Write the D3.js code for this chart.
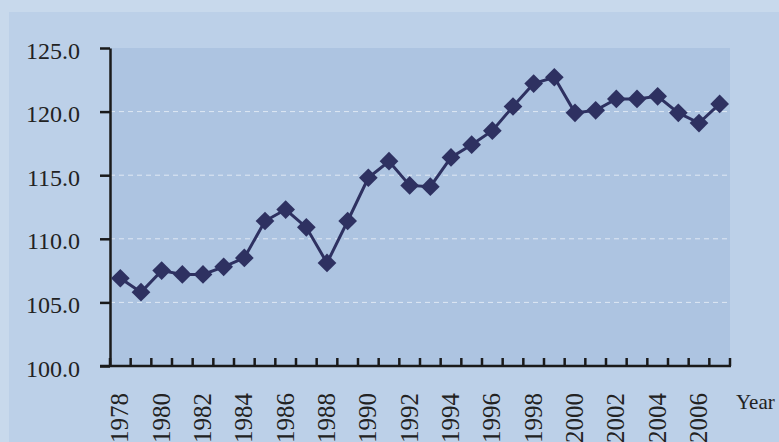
<!DOCTYPE html>
<html>
<head>
<meta charset="utf-8">
<script src="https://cdn.jsdelivr.net/npm/d3@7"></script>
<style>
  body { margin: 0; background: #c8d9ec; }
  svg { display: block; }
</style>
</head>
<body>
<svg id="canvas"></svg>
<script>
const years = [1978, 1979, 1980, 1981, 1982, 1983, 1984, 1985, 1986, 1987,
  1988, 1989, 1990, 1991, 1992, 1993, 1994, 1995, 1996, 1997,
  1998, 1999, 2000, 2001, 2002, 2003, 2004, 2005, 2006, 2007]
const values = [106.9, 105.8, 107.5, 107.2, 107.2, 107.8, 108.5, 111.4, 112.3, 110.9,
  108.1, 111.4, 114.8, 116.1, 114.2, 114.1, 116.4, 117.4, 118.5, 120.4,
  122.2, 122.7, 119.9, 120.1, 121.0, 121.0, 121.2, 119.9, 119.1, 120.6]
const yTicks = [100, 105, 110, 115, 120, 125]
const gridTicks = [105, 110, 115, 120]
const xLabel = 'Year'

const width = 779
const height = 442
const plot = { left: 110, right: 730, top: 48, bottom: 366 }
const font = '"Liberation Serif", "Times New Roman", serif'

const canvas = d3.select('#canvas')
  .attr('width', width)
  .attr('height', height)

// outer panel and plot area
canvas.append('rect')
  .attr('x', 9).attr('y', 12)
  .attr('width', width).attr('height', height)
  .attr('fill', '#bcd0e8')

canvas.append('rect')
  .attr('x', plot.left).attr('y', plot.top)
  .attr('width', plot.right - plot.left)
  .attr('height', plot.bottom - plot.top)
  .attr('fill', '#adc4e1')

// scales
const xScale = d3.scaleBand()
  .domain(years)
  .range([plot.left, plot.right])

const yScale = d3.scaleLinear()
  .domain([100, 125])
  .range([plot.bottom, plot.top])

// dashed gridlines
canvas.append('g')
  .selectAll('line')
  .data(gridTicks)
  .enter()
  .append('line')
  .attr('x1', plot.left)
  .attr('x2', plot.right)
  .attr('y1', d => yScale(d))
  .attr('y2', d => yScale(d))
  .attr('stroke', '#dfe8f4')
  .attr('stroke-width', 1)
  .attr('stroke-dasharray', '5,4')

// y axis
const yAxis = d3.axisLeft(yScale)
  .tickValues(yTicks)
  .tickSize(10)
  .tickSizeOuter(0)
  .tickPadding(20)
  .tickFormat(d3.format('.1f'))

const yG = canvas.append('g')
  .attr('transform', `translate(${plot.left}, 0)`)
  .call(yAxis)
  .attr('font-family', font)
  .attr('font-size', 24)
yG.select('.domain').attr('stroke', '#1a1a1a').attr('stroke-width', 2.5)
yG.selectAll('.tick line').attr('stroke', '#1a1a1a').attr('stroke-width', 2.5)
yG.selectAll('.tick text')
  .attr('fill', '#222')
  .attr('dy', '0.42em')

// x axis: ticks at band boundaries, pointing up
const boundaries = years.map(y => xScale(y)).concat([plot.right])
const xG = canvas.append('g')
xG.append('line')
  .attr('x1', plot.left - 10)
  .attr('x2', plot.right + 1)
  .attr('y1', plot.bottom)
  .attr('y2', plot.bottom)
  .attr('stroke', '#1a1a1a')
  .attr('stroke-width', 2.5)
xG.selectAll('.xtick')
  .data(boundaries)
  .enter()
  .append('line')
  .attr('class', 'xtick')
  .attr('x1', d => d)
  .attr('x2', d => d)
  .attr('y1', plot.bottom)
  .attr('y2', plot.bottom - 8)
  .attr('stroke', '#1a1a1a')
  .attr('stroke-width', 2.5)

xG.selectAll('.xlabel')
  .data(years.filter(y => y % 2 === 0))
  .enter()
  .append('text')
  .attr('class', 'xlabel')
  .attr('transform', d => `translate(${xScale(d) + xScale.bandwidth() / 2 + 8}, 393) rotate(-90)`)
  .attr('text-anchor', 'end')
  .attr('font-family', font)
  .attr('font-size', 25)
  .attr('fill', '#222')
  .text(d => d)

canvas.append('text')
  .attr('x', 736)
  .attr('y', 409)
  .attr('font-family', font)
  .attr('font-size', 21)
  .attr('fill', '#222')
  .text(xLabel)

// line + diamond markers
const line = d3.line()
  .x((d, i) => xScale(years[i]) + xScale.bandwidth() / 2)
  .y(d => yScale(d))

canvas.append('path')
  .datum(values)
  .attr('d', line)
  .attr('fill', 'none')
  .attr('stroke', '#2e3161')
  .attr('stroke-width', 3)

const diamond = d3.symbol().type(d3.symbolSquare).size(175)
canvas.append('g')
  .selectAll('path')
  .data(values)
  .enter()
  .append('path')
  .attr('d', diamond)
  .attr('transform', (d, i) => `translate(${xScale(years[i]) + xScale.bandwidth() / 2}, ${yScale(d)}) rotate(45)`)
  .attr('fill', '#2e3161')
</script>
</body>
</html>
